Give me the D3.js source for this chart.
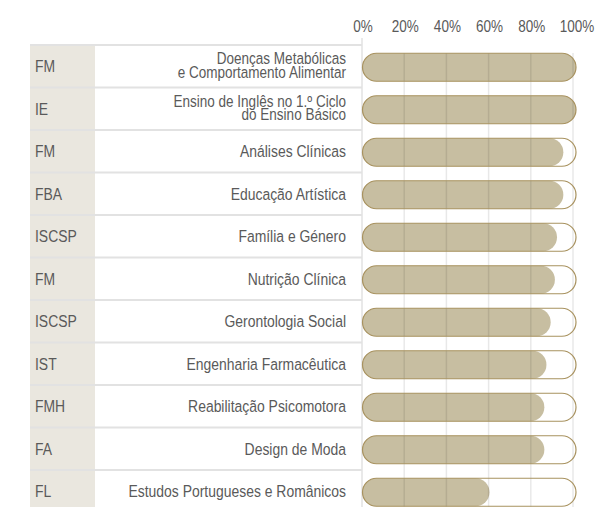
<!DOCTYPE html>
<html>
<head>
<meta charset="utf-8">
<script src="https://cdn.jsdelivr.net/npm/d3@7"></script>
<style>
  body { margin: 0; background: #fff; }
  text { font-family: "Liberation Sans", Arial, sans-serif; fill: #5a5a5a; }
</style>
</head>
<body>
<svg id="chart" width="597" height="507"></svg>
<script>
const schools = ['FM', 'IE', 'FM', 'FBA', 'ISCSP', 'FM', 'ISCSP', 'IST', 'FMH', 'FA', 'FL'];
const courses = [
  ['Doenças Metabólicas', 'e Comportamento Alimentar'],
  ['Ensino de Inglês no 1.º Ciclo', 'do Ensino Básico'],
  ['Análises Clínicas'],
  ['Educação Artística'],
  ['Família e Género'],
  ['Nutrição Clínica'],
  ['Gerontologia Social'],
  ['Engenharia Farmacêutica'],
  ['Reabilitação Psicomotora'],
  ['Design de Moda'],
  ['Estudos Portugueses e Românicos']
];
const values = [100, 100, 94, 94, 91, 90, 88, 86, 85, 85, 59];
const ticks = [0, 20, 40, 60, 80, 100];

const svg = d3.select('#chart');
const idx = d3.range(values.length);
const narrow = 0.82; // condensed look of the original face

const x = d3.scaleLinear().domain([0, 100]).range([362, 573]);
const y = d3.scaleBand().domain(idx).range([45, 45 + 42.5 * values.length]);

const barH = 28;

// table: school column
svg.append('rect')
  .attr('x', 30).attr('y', y.range()[0])
  .attr('width', 65).attr('height', y.range()[1] - y.range()[0])
  .attr('fill', '#eae7df');

// row separators
svg.append('g').selectAll('line')
  .data(idx)
  .join('line')
    .attr('x1', 30).attr('x2', x(0))
    .attr('y1', d => y(d)).attr('y2', d => y(d))
    .attr('stroke', '#e2e2e2')
    .attr('stroke-width', 2);

// right border of the table / 0% line
svg.append('line')
  .attr('x1', x(0)).attr('x2', x(0))
  .attr('y1', 38).attr('y2', 507)
  .attr('stroke', '#e2e2e2')
  .attr('stroke-width', 1.5);

// school labels
svg.append('g').selectAll('text')
  .data(idx)
  .join('text')
    .attr('transform', d => `translate(35,${y(d) + y.bandwidth() / 2 + 6}) scale(${narrow},1)`)
    .attr('font-size', 17)
    .text(d => schools[d]);

// course labels
svg.append('g').selectAll('text')
  .data(idx)
  .join('text')
    .attr('text-anchor', 'end')
    .attr('font-size', d => courses[d].length > 1 ? 16.5 : 17)
    .attr('transform', d => `translate(346,${y(d) + y.bandwidth() / 2 + (courses[d].length > 1 ? -2 : 6)}) scale(${narrow},1)`)
    .each(function(d) {
      const t = d3.select(this);
      courses[d].forEach((s, i) => {
        t.append('tspan')
          .attr('x', 0)
          .attr('dy', i === 0 ? 0 : 13.5)
          .text(s);
      });
    });

// axis tick labels
svg.append('g').selectAll('text')
  .data(ticks)
  .join('text')
    .attr('transform', d => `translate(${x(d) + (d === 100 ? 4 : 1)},32) scale(${narrow},1)`)
    .attr('text-anchor', 'middle')
    .attr('font-size', 16.5)
    .attr('fill', '#666')
    .text(d => d + '%');

const bars = svg.append('g').selectAll('g')
  .data(idx)
  .join('g')
    .attr('transform', d => `translate(0,${y(d) + y.bandwidth() / 2 - barH / 2 + 1})`);

// value fill
bars.append('rect')
  .attr('x', x(0) + 0.5)
  .attr('width', d => x(values[d]) - x(0) + 2.5)
  .attr('height', barH)
  .attr('rx', barH / 2)
  .attr('fill', '#c7bea1');

// gridlines (drawn over the fill)
svg.append('g').selectAll('line')
  .data(ticks.slice(1))
  .join('line')
    .attr('x1', d => x(d)).attr('x2', d => x(d))
    .attr('y1', 53).attr('y2', 507)
    .attr('stroke', 'rgba(0,0,0,0.09)')
    .attr('stroke-width', 1.5);

// capsule outline
svg.append('g').selectAll('rect')
  .data(idx)
  .join('rect')
    .attr('x', x(0) + 0.5)
    .attr('y', d => y(d) + y.bandwidth() / 2 - barH / 2 + 1)
    .attr('width', x(100) - x(0) + 2.5)
    .attr('height', barH)
    .attr('rx', barH / 2)
    .attr('fill', 'none')
    .attr('stroke', '#a8925f')
    .attr('stroke-width', 1.2);
</script>
</body>
</html>
